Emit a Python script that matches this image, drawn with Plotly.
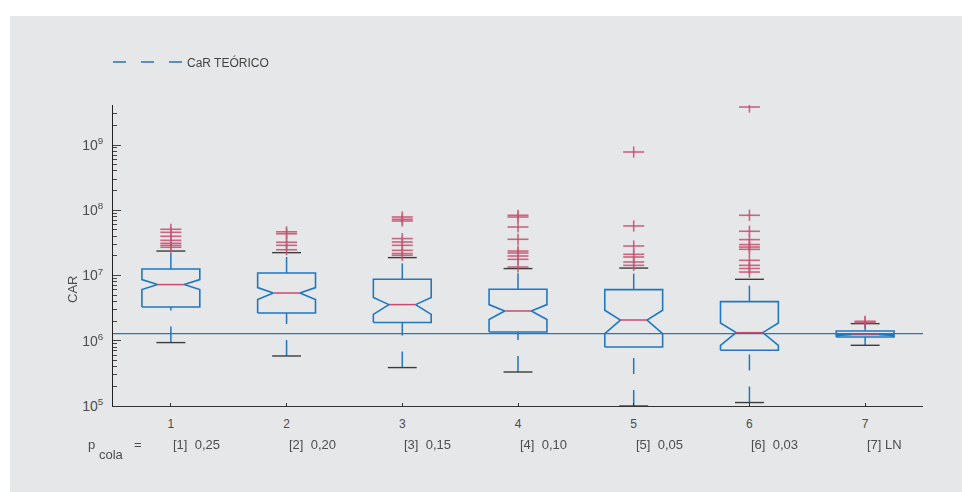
import plotly.graph_objects as go

# ---- data -------------------------------------------------------------
categories = [1, 2, 3, 4, 5, 6, 7]
tick_labels = ["1", "2", "3", "4", "5", "6", "7"]
p_cola_labels = ["[1]\u00a0\u00a00,25", "[2]\u00a0\u00a00,20", "[3]\u00a0\u00a00,15",
                 "[4]\u00a0\u00a00,10", "[5]\u00a0\u00a00,05", "[6]\u00a0\u00a00,03",
                 "[7]\u00a0LN"]

upper_whisker = [2.37e7, 2.24e7, 1.88e7, 1.276e7, 1.30e7, 8.74e6, 1.83e6]
q3 = [1.258e7, 1.092e7, 8.74e6, 6.14e6, 6.08e6, 3.98e6, 1.41e6]
notch_hi = [8.65e6, 6.53e6, 4.59e6, 3.58e6, 2.93e6, 1.87e6, 1.27e6]
median = [7.25e6, 5.39e6, 3.58e6, 2.86e6, 2.08e6, 1.33e6, 1.24e6]
notch_lo = [6.08e6, 4.27e6, 2.54e6, 2.11e6, 1.29e6, 8.52e5, 1.21e6]
q1 = [3.29e6, 2.66e6, 1.90e6, 1.36e6, 8.02e5, 7.14e5, 1.14e6]
lower_whisker = [9.37e5, 5.84e5, 3.88e5, 3.32e5, 1.0e5, 1.13e5, 8.52e5]

outliers = [
    [5.11e7, 4.59e7, 3.99e7, 3.46e7, 3.12e7, 2.90e7, 2.71e7],
    [4.67e7, 4.36e7, 3.23e7, 2.90e7, 2.48e7],
    [7.88e7, 7.27e7, 6.84e7, 3.68e7, 3.26e7, 2.90e7, 2.43e7, 2.17e7, 2.04e7],
    [8.37e7, 7.88e7, 5.54e7, 3.59e7, 2.37e7, 2.21e7, 1.99e7, 1.77e7, 1.35e7],
    [7.81e8, 5.74e7, 2.83e7, 2.11e7, 1.92e7, 1.61e7, 1.43e7],
    [3.82e9, 8.37e7, 4.76e7, 3.55e7, 2.98e7, 2.73e7, 2.52e7, 1.71e7, 1.43e7,
     1.28e7, 1.13e7],
    [1.99e6, 1.95e6, 1.89e6],
]

car_teorico = 1.29e6

# ---- styling ----------------------------------------------------------
BLUE = "#1f78c1"
RED = "#c44d6e"
CAP = "#3c3c3c"
TEXT = "#4d4d4d"
PANEL = "#e6e7e8"
BOX_HALF = 0.25
NOTCH_HALF = 0.115
CAP_HALF = 0.125

fig = go.Figure()

# notched boxes
bx, by = [], []
for c, a, nh, m, nl, b in zip(categories, q3, notch_hi, median, notch_lo, q1):
    bx += [c - BOX_HALF, c - BOX_HALF, c - NOTCH_HALF, c - BOX_HALF, c - BOX_HALF,
           c + BOX_HALF, c + BOX_HALF, c + NOTCH_HALF, c + BOX_HALF, c + BOX_HALF,
           c - BOX_HALF, None]
    by += [b, nl, m, nh, a, a, nh, m, nl, b, b, None]

# dashed whiskers, each drawn upward so the dash pattern starts at its lower end
for c, lw, b, a, uw in zip(categories, lower_whisker, q1, q3, upper_whisker):
    for y0, y1 in ((lw, b), (a, uw)):
        fig.add_trace(go.Scatter(
            x=[c, c], y=[y0, y1], mode="lines", showlegend=False, hoverinfo="skip",
            line=dict(color=BLUE, width=1.5, dash="16px,16px"), cliponaxis=False))

fig.add_trace(go.Scatter(x=bx, y=by, mode="lines", showlegend=False,
                         line=dict(color=BLUE, width=1.6), hoverinfo="skip"))

# whisker caps
cx, cy = [], []
for c, lw, uw in zip(categories, lower_whisker, upper_whisker):
    cx += [c - CAP_HALF, c + CAP_HALF, None, c - CAP_HALF, c + CAP_HALF, None]
    cy += [lw, lw, None, uw, uw, None]
fig.add_trace(go.Scatter(x=cx, y=cy, mode="lines", showlegend=False, hoverinfo="skip",
                         line=dict(color=CAP, width=1.4), cliponaxis=False))

# medians
mx, my = [], []
for c, m in zip(categories, median):
    mx += [c - NOTCH_HALF, c + NOTCH_HALF, None]
    my += [m, m, None]
fig.add_trace(go.Scatter(x=mx, y=my, mode="lines", showlegend=False, hoverinfo="skip",
                         line=dict(color=RED, width=1.5)))

# outliers as '+' marks (wide horizontal arm, short vertical arm)
ox, oy = [], []
for c, vals in zip(categories, outliers):
    ox += [c] * len(vals)
    oy += vals
for sym, size in (("line-ew", 15), ("line-ns", 8)):
    fig.add_trace(go.Scatter(
        x=ox, y=oy, mode="markers", showlegend=False, hoverinfo="skip",
        marker=dict(symbol=sym, size=size, color=RED,
                    line=dict(color=RED, width=1.6)), opacity=0.85))

# theoretical CaR reference line
fig.add_trace(go.Scatter(x=[0.5, 7.5], y=[car_teorico, car_teorico], mode="lines",
                         name="CaR TEÓRICO", showlegend=False, hoverinfo="skip",
                         line=dict(color=BLUE, width=1.3), cliponaxis=False))

# ---- layout -----------------------------------------------------------
L, R, T, B = 113, 39, 105, 86
W, H = 962, 492
PW, PH = W - L - R, H - T - B


def px(x):
    return (x - L) / PW


def py(y):
    return (H - B - y) / PH


decades = [1e5, 1e6, 1e7, 1e8, 1e9]
minor_vals = [k * 10 ** n for n in range(5, 10) for k in range(2, 10)]

fig.update_layout(
    width=W, height=H, autosize=False,
    margin=dict(l=L, r=R, t=T, b=B),
    paper_bgcolor=PANEL, plot_bgcolor=PANEL,
    font=dict(family="Liberation Sans, Arial, sans-serif", color=TEXT),
    xaxis=dict(range=[0.5, 7.5], tickmode="array", tickvals=categories,
               ticktext=tick_labels, ticks="inside", ticklen=3, tickcolor="#333",
               showline=True, linecolor="#333", linewidth=1, showgrid=False,
               zeroline=False, tickfont=dict(size=12, color=TEXT),
               ticklabelstandoff=7),
    yaxis=dict(type="log", range=[5, 5 + PH / 65.25], tickmode="array",
               tickvals=decades,
               ticktext=["10<sup>%d</sup>" % n for n in range(5, 10)],
               ticks="inside", ticklen=8, tickcolor="#444", showline=True,
               linecolor="#222", linewidth=1, showgrid=False, zeroline=False,
               tickfont=dict(size=14, color=TEXT), ticklabelstandoff=6,
               minor=dict(tickmode="array", tickvals=minor_vals, ticks="inside",
                          ticklen=4, tickcolor="#444", showgrid=False)),
    shapes=[
        # white page strips around the grey panel
        dict(type="rect", xref="paper", yref="paper", x0=px(0), x1=px(W),
             y0=py(16), y1=py(0), fillcolor="white", line=dict(width=0), layer="below"),
        dict(type="rect", xref="paper", yref="paper", x0=px(0), x1=px(10),
             y0=py(H), y1=py(0), fillcolor="white", line=dict(width=0), layer="below"),
        # legend sample
        dict(type="line", xref="paper", yref="paper", x0=px(113), x1=px(182),
             y0=py(62), y1=py(62), line=dict(color=BLUE, width=1.5, dash="13px,15px")),
    ],
)

ann = [
    dict(text="CaR TEÓRICO", x=px(185), y=py(62), xanchor="left", yanchor="middle",
         font=dict(size=12, color="#444")),
    dict(text="CAR", x=px(72), y=py(290), textangle=-90, xanchor="center",
         yanchor="middle", font=dict(size=13, color=TEXT)),
    dict(text="p", x=px(86), y=py(444), xanchor="left", yanchor="middle",
         font=dict(size=13, color=TEXT)),
    dict(text="cola", x=px(97), y=py(454), xanchor="left", yanchor="middle",
         font=dict(size=13, color=TEXT)),
    dict(text="=", x=px(132), y=py(444), xanchor="left", yanchor="middle",
         font=dict(size=13, color=TEXT)),
]
for a in ann:
    a.update(xref="paper", yref="paper", showarrow=False)
    fig.add_annotation(**a)

for c, lab in zip(categories, p_cola_labels):
    fig.add_annotation(text=lab, xref="x", yref="paper", x=c, y=py(444),
                       xanchor="left", yanchor="middle", showarrow=False,
                       font=dict(size=13, color=TEXT))

fig.write_html("out.html")
